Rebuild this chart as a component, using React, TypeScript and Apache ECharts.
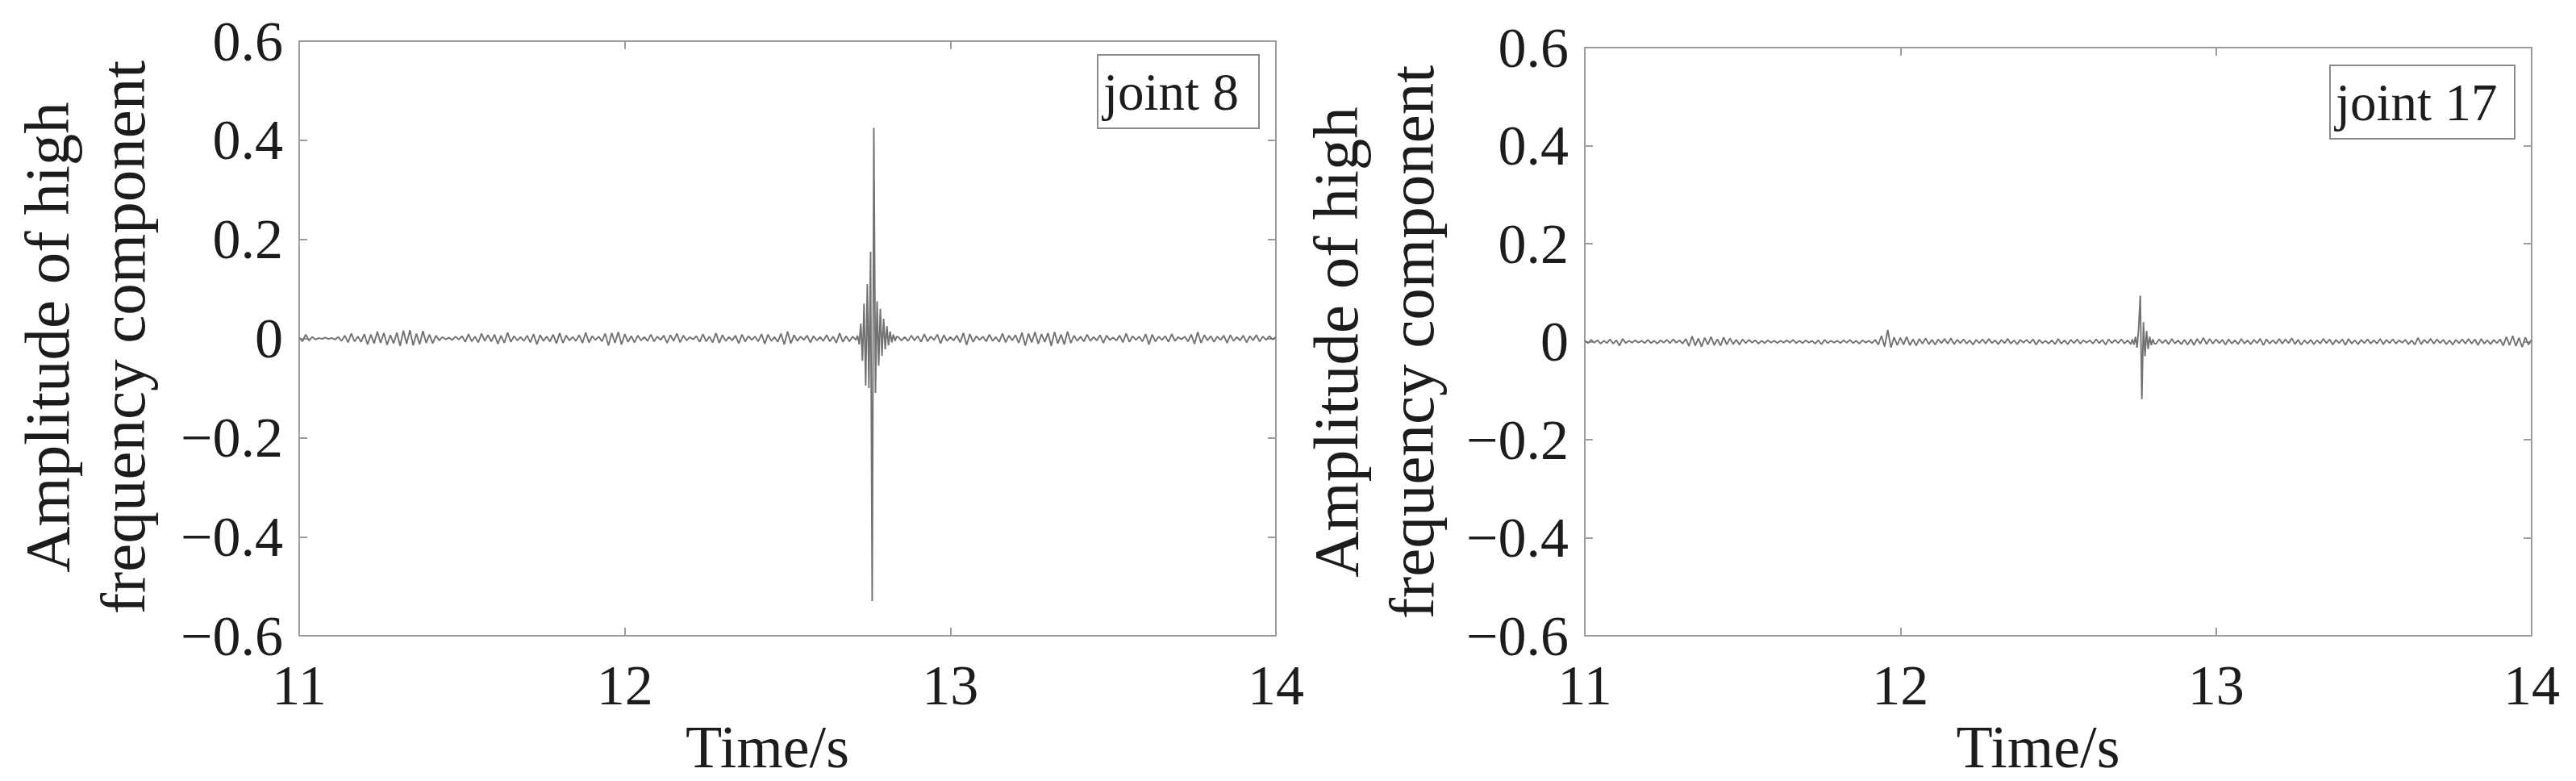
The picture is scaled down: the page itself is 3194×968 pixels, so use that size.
import React, { useEffect, useRef } from "react";
import * as echarts from "echarts";

// ---------------- DATA ----------------
const seriesNames = ["joint 8", "joint 17"];
const xTickLabels = ["11", "12", "13", "14"];
const yTickLabels = ["\u22120.6", "\u22120.4", "\u22120.2", "0", "0.2", "0.4", "0.6"];
const xAxisTitle = "Time/s";
const yAxisTitle = "Amplitude of high\nfrequency component";

// background noise, units of 0.001, sampled every 0.01 s from 11.00 s to 14.00 s
const noiseStart = 11.0;
const noiseStep = 0.01;
const joint8Noise = [
  2, -6, 8, -4, 3, -2, 1, -1, 2, -1,
  1, -2, 3, -5, 6, -8, 10, -6, 4, -7,
  9, -12, 8, -10, 14, -9, 11, -13, 7, -10,
  12, -15, 16, -11, 17, -14, 10, -12, 15, -9,
  8, -10, 6, -4, 3, -2, 2, -3, 4, -2,
  5, -7, 9, -6, 4, -8, 10, -5, 7, -6,
  8, -11, 6, -9, 12, -7, 5, -4, 3, -5,
  6, -8, 9, -12, 7, -5, 4, -6, 8, -10,
  11, -9, 6, -4, 3, -5, 7, -9, 12, -8,
  5, -3, 4, -6, 10, -14, 11, -9, 13, -12,
  9, -7, 5, -8, 6, -4, 3, -5, 8, -6,
  4, -3, 6, -9, 7, -5, 10, -8, 6, -4,
  3, -2, 5, -7, 9, -6, 4, -8, 11, -9,
  7, -5, 3, -4, 6, -10, 8, -6, 5, -3,
  4, -6, 9, -11, 8, -5, 3, -7, 10, -12,
  14, -10, 7, -5, 4, -3, 6, -8, 5, -4,
  3, -5, 7, -6, 4, -9, 11, -7, 5, -6,
  4, -3, 5, -4, 3, -2, 4, -3, 2, -3,
  2, -3, 4, -2, 3, -4, 3, -5, 6, -4,
  5, -7, 9, -6, 4, -3, 8, -10, 7, -5,
  3, -4, 6, -8, 11, -13, 9, -7, 5, -3,
  4, -6, 8, -5, 3, -7, 10, -8, 6, -4,
  7, -9, 12, -14, 10, -8, 13, -11, 9, -7,
  11, -15, 13, -10, 8, -12, 14, -9, 6, -5,
  4, -6, 8, -5, 3, -4, 7, -9, 6, -3,
  2, -4, 6, -8, 10, -7, 5, -3, 4, -6,
  9, -12, 8, -6, 4, -3, 5, -7, 9, -5,
  3, -2, 4, -6, 8, -11, 13, -9, 7, -4,
  5, -7, 4, -3, 6, -9, 7, -5, 3, -4,
  6, -8, 5, -4, 7, -6, 4, -3, 5, -2,
  3,
];
const joint17Noise = [
  2, -3, 4, -2, 3, -4, 2, -3, 5, -4,
  3, -8, 6, -3, 2, -2, 3, -2, 2, -3,
  4, -3, 2, -4, 3, -2, 4, -3, 5, -2,
  3, -4, 6, -9, 11, -8, 7, -10, 8, -6,
  10, -7, 5, -8, 9, -6, 7, -5, 4, -6,
  5, -3, 4, -2, 3, -4, 2, -3, 3, -2,
  2, -3, 2, -2, 3, -2, 4, -3, 2, -3,
  3, -2, 2, -4, 3, -5, 4, -3, 2, -2,
  2, -3, 3, -2, 4, -3, 2, -4, 3, -2,
  2, -3, 4, -6, 12, -10, 24, -12, 9, -7,
  8, -6, 10, -7, 5, -8, 6, -4, 7, -5,
  4, -6, 5, -3, 6, -4, 7, -5, 4, -3,
  5, -4, 3, -6, 4, -3, 5, -4, 6, -3,
  3, -5, 4, -3, 6, -4, 3, -5, 4, -2,
  4, -3, 5, -6, 4, -3, 2, -4, 3, -5,
  6, -4, 3, -5, 4, -3, 5, -4, 3, -2,
  3, -4, 5, -3, 4, -6, 5, -3, 4, -3,
  5, -4, 3, -5, 4, -3, 2, -3, 4, -2,
  3, -4, 5, -3, 4, -5, 6, -4, 3, -5,
  4, -6, 5, -7, 6, -4, 8, -5, 6, -4,
  5, -3, 4, -6, 5, -4, 3, -5, 6, -4,
  3, -5, 4, -3, 6, -7, 5, -4, 3, -4,
  6, -4, 5, -3, 7, -5, 4, -6, 3, -4,
  4, -5, 3, -4, 6, -3, 5, -6, 4, -3,
  5, -7, 6, -4, 3, -5, 4, -3, 5, -4,
  3, -4, 6, -5, 4, -3, 5, -4, 3, -2,
  4, -5, 3, -6, 8, -5, 4, -3, 6, -4,
  5, -3, 4, -5, 3, -6, 4, -3, 5, -4,
  6, -4, 5, -7, 6, -4, 3, -5, 4, -3,
  5, -8, 10, -7, 12, -9, 8, -11, 9, -6,
  4,
];

// impact bursts, units of 0.001, sampled every 0.005 s
const burstStep = 0.005;
const joint8BurstStart = 12.715;
const joint8Burst = [
  6, -12, 30, -45, 70, -95, 110, -100, 175, -530,
  425, -110, 75, -55, 60, -35, 40, -22, 25, -14,
  14, -8, 8, -5, 4,
];
const joint17BurstStart = 12.735;
const joint17Burst = [
  5, -6, 10, -12, 30, 94, -117, 40, -30, 22,
  -15, 10, -7, 5, -4,
];

// ---------------- LAYOUT / STYLE ----------------
const FONT = "'Liberation Serif', 'Times New Roman', serif";
const FRAME = "#9c9c9c";
const TEXT = "#1c1c1c";
const LINE = "#727272";

const grids = [
  { left: 371, top: 51, width: 1211, height: 749 },
  { left: 1965, top: 59, width: 1174, height: 743 },
];

function buildPoints(noise: number[], burst: number[], burstStart: number) {
  const bEnd = burstStart + (burst.length - 1) * burstStep;
  const pts: number[][] = [];
  noise.forEach((v, i) => {
    const t = noiseStart + i * noiseStep;
    if (t < burstStart - 1e-9 || t > bEnd + 1e-9) pts.push([t, v / 1000]);
  });
  burst.forEach((v, i) => pts.push([burstStart + i * burstStep, v / 1000]));
  pts.sort((a, b) => a[0] - b[0]);
  return pts;
}

const xFmt = (v: number) => {
  const i = Math.round(v - 11);
  return xTickLabels[i] ?? "";
};
const yFmt = (v: number) => {
  const i = Math.round((v + 0.6) / 0.2);
  return yTickLabels[i] ?? "";
};

export default function App() {
  const ref = useRef<HTMLDivElement>(null);
  useEffect(() => {
    if (!ref.current) return;
    const chart = echarts.init(ref.current, undefined, { renderer: "svg" });
    const data = [
      buildPoints(joint8Noise, joint8Burst, joint8BurstStart),
      buildPoints(joint17Noise, joint17Burst, joint17BurstStart),
    ];

    const xAxes: any[] = [];
    const yAxes: any[] = [];
    grids.forEach((_, g) => {
      xAxes.push({
        type: "value",
        gridIndex: g,
        position: "bottom",
        min: 11,
        max: 14,
        interval: 1,
        axisLine: { show: true, onZero: false, lineStyle: { color: FRAME, width: 2 } },
        axisTick: { show: true, inside: true, length: 10, lineStyle: { color: FRAME, width: 2 } },
        axisLabel: { fontSize: 70, fontFamily: FONT, color: TEXT, margin: 26, formatter: xFmt },
        splitLine: { show: false },
        name: xAxisTitle,
        nameLocation: "middle",
        nameGap: 68,
        nameTextStyle: { fontSize: 74, fontFamily: FONT, color: TEXT, padding: [0, 50, 0, 0] },
      });
      xAxes.push({
        type: "value",
        gridIndex: g,
        position: "top",
        min: 11,
        max: 14,
        interval: 1,
        axisLine: { show: true, onZero: false, lineStyle: { color: FRAME, width: 2 } },
        axisTick: { show: true, inside: true, length: 10, lineStyle: { color: FRAME, width: 2 } },
        axisLabel: { show: false },
        splitLine: { show: false },
      });
      yAxes.push({
        type: "value",
        gridIndex: g,
        position: "left",
        min: -0.6,
        max: 0.6,
        interval: 0.2,
        axisLine: { show: true, onZero: false, lineStyle: { color: FRAME, width: 2 } },
        axisTick: { show: true, inside: true, length: 10, lineStyle: { color: FRAME, width: 2 } },
        axisLabel: { fontSize: 70, fontFamily: FONT, color: TEXT, margin: 20, formatter: yFmt },
        splitLine: { show: false },
      });
      yAxes.push({
        type: "value",
        gridIndex: g,
        position: "right",
        min: -0.6,
        max: 0.6,
        interval: 0.2,
        axisLine: { show: true, onZero: false, lineStyle: { color: FRAME, width: 2 } },
        axisTick: { show: true, inside: true, length: 10, lineStyle: { color: FRAME, width: 2 } },
        axisLabel: { show: false },
        splitLine: { show: false },
      });
    });

    const legendBoxes = [
      { x: 1361, y: 68, w: 200, h: 91 },
      { x: 2889, y: 81, w: 229, h: 91 },
    ];
    const yTitlePos = [
      { x: 105, y: 418 },
      { x: 1703, y: 424 },
    ];

    const graphics: any[] = [];
    legendBoxes.forEach((b, i) => {
      graphics.push({
        type: "rect",
        shape: { x: b.x, y: b.y, width: b.w, height: b.h },
        style: { fill: "#ffffff", stroke: "#8a8a8a", lineWidth: 2 },
        z: 10,
      });
      graphics.push({
        type: "text",
        x: b.x + 7,
        y: b.y + b.h / 2,
        style: {
          text: seriesNames[i],
          fontSize: 65,
          fontFamily: FONT,
          fill: TEXT,
          align: "left",
          verticalAlign: "middle",
        },
        z: 11,
      });
    });
    yTitlePos.forEach((p) => {
      graphics.push({
        type: "text",
        x: p.x,
        y: p.y,
        rotation: Math.PI / 2,
        style: {
          text: yAxisTitle,
          fontSize: 79,
          lineHeight: 94,
          fontFamily: FONT,
          fill: TEXT,
          align: "center",
          verticalAlign: "middle",
        },
      });
    });

    chart.setOption({
      animation: false,
      backgroundColor: "#ffffff",
      grid: grids.map((g) => ({ ...g, containLabel: false })),
      xAxis: xAxes,
      yAxis: yAxes,
      series: data.map((d, i) => ({
        name: seriesNames[i],
        type: "line",
        xAxisIndex: i * 2,
        yAxisIndex: i * 2,
        data: d,
        showSymbol: false,
        symbol: "none",
        silent: true,
        lineStyle: { color: LINE, width: 1.9 },
      })),
      graphic: graphics,
    });
    return () => chart.dispose();
  }, []);

  return (
    <div
      ref={ref}
      style={{ position: "absolute", left: 0, top: 0, width: 3194, height: 968, background: "#fff" }}
    />
  );
}
